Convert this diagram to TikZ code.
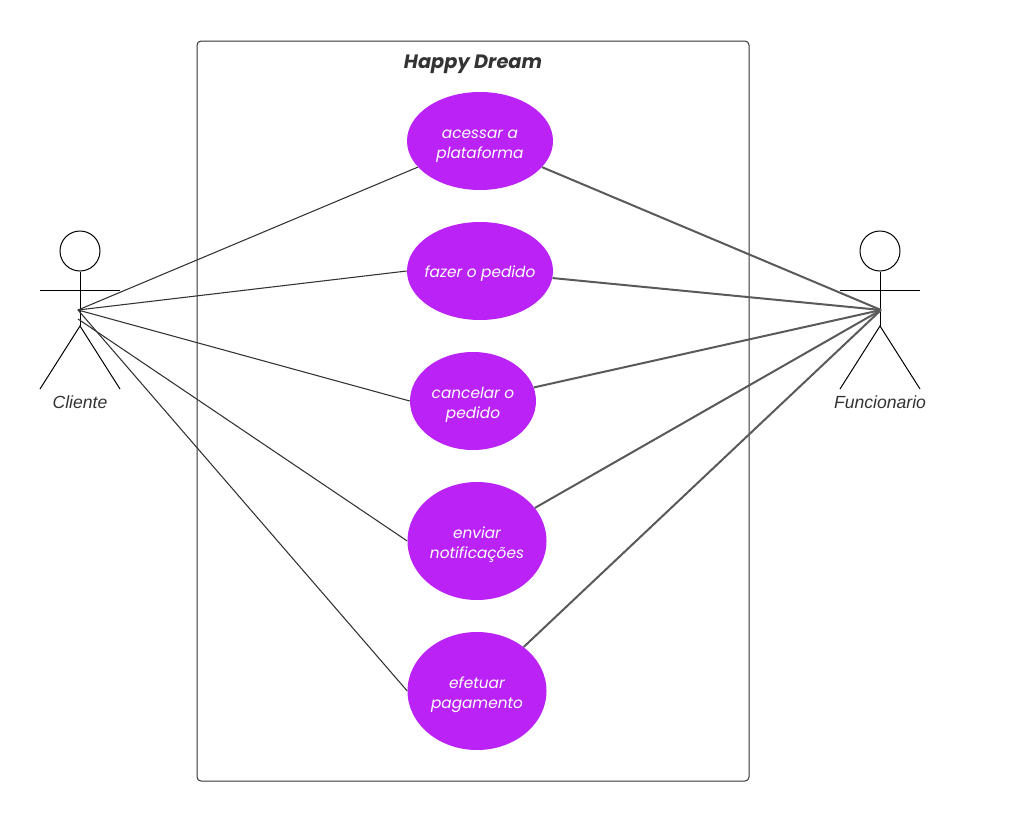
\documentclass[tikz,border=0pt]{standalone}
\usepackage{fontspec}
\setmainfont{Poppins}
\newfontfamily\actorfont{Liberation Sans}
\usetikzlibrary{shapes.geometric}
\definecolor{usecase}{HTML}{BA22F5}
\definecolor{ink}{HTML}{333333}
\definecolor{heavy}{HTML}{5A5A5A}
\tikzset{
  x=0.75pt,y=-0.75pt,
  usecasebox/.style={ellipse,fill=usecase,draw=none,inner sep=0pt},
  casetext/.style={inner sep=0pt,text=white,align=center,yshift=-3pt,
    font=\fontsize{11.5}{15}\selectfont\itshape},
  casetextone/.style={casetext,yshift=0.75pt},
  casetexttop/.style={casetext,yshift=-0.75pt},
  systembox/.style={draw=ink,line width=0.75pt,rounded corners=3pt},
  stick/.style={draw=black,line width=0.75pt},
  thinlink/.style={draw=ink,line width=0.8pt},
  heavylink/.style={draw=heavy,line width=1.5pt},
  actorlabel/.style={text=ink,font=\actorfont\fontsize{13.2}{15}\selectfont\itshape},
  titlelabel/.style={text=ink,font=\fontsize{14.5}{18}\selectfont\bfseries\itshape},
}
\begin{document}
\begin{tikzpicture}
\useasboundingbox (0,0) rectangle (1031,821);
\fill[white] (0,0) rectangle (1031,821);
\node[systembox,minimum width=414pt,minimum height=555pt,inner sep=0pt] (sys) at (473,411) {};
\node[titlelabel] (title) at (473,64) {Happy Dream};

\node[usecasebox,minimum width=109.5pt,minimum height=73.5pt,label={[casetexttop]center:acessar a\\plataforma}] (e1) at (480,141) {};
\node[usecasebox,minimum width=109.5pt,minimum height=73.5pt,label={[casetextone]center:fazer o pedido}] (e2) at (480,271) {};
\node[usecasebox,minimum width=94.5pt,minimum height=73.5pt,label={[casetext]center:cancelar o\\pedido}] (e3) at (473,401) {};
\node[usecasebox,minimum width=104.25pt,minimum height=88.5pt,label={[casetext]center:enviar\\notificações}] (e4) at (477,541) {};
\node[usecasebox,minimum width=104.25pt,minimum height=88.5pt,label={[casetext]center:efetuar\\pagamento}] (e5) at (477,691) {};

% left actor
\node[circle,stick,minimum size=30pt,inner sep=0pt] (lhead) at (80,251) {};
\coordinate (lhip) at (80,326);
\coordinate (lhub) at (78,310);
\coordinate (lhubb) at (78,319);
\coordinate (larmL) at (40,290);
\coordinate (larmR) at (120,290);
\coordinate (llegL) at (40,389);
\coordinate (llegR) at (120,389);
\draw[stick] (lhead) -- (lhip);
\draw[stick] (larmL) -- (larmR);
\draw[stick] (llegL) -- (lhip) -- (llegR);
\node[actorlabel] (lname) at (80,402) {Cliente};

% right actor
\node[circle,stick,minimum size=30pt,inner sep=0pt] (rhead) at (880,251) {};
\coordinate (rhip) at (880,326);
\coordinate (rhub) at (881,310);
\coordinate (rarmL) at (840,290);
\coordinate (rarmR) at (920,290);
\coordinate (rlegL) at (840,389);
\coordinate (rlegR) at (920,389);
\draw[stick] (rhead) -- (rhip);
\draw[stick] (rarmL) -- (rarmR);
\draw[stick] (rlegL) -- (rhip) -- (rlegR);
\node[actorlabel] (rname) at (880,402) {Funcionario};

% connectors
\draw[thinlink] (lhub) -- (e1);
\draw[thinlink] (lhub) -- (e2.west);
\draw[thinlink] (lhub) -- (e3.west);
\draw[thinlink] (lhubb) -- (e4.west);
\draw[thinlink] (lhub) -- (e5.west);
\draw[heavylink] (rhub) -- (e1);
\draw[heavylink] (rhub) -- (e2);
\draw[heavylink] (rhub) -- (e3);
\draw[heavylink] (rhub) -- (e4);
\draw[heavylink] (rhub) -- (e5);
\end{tikzpicture}
\end{document}
